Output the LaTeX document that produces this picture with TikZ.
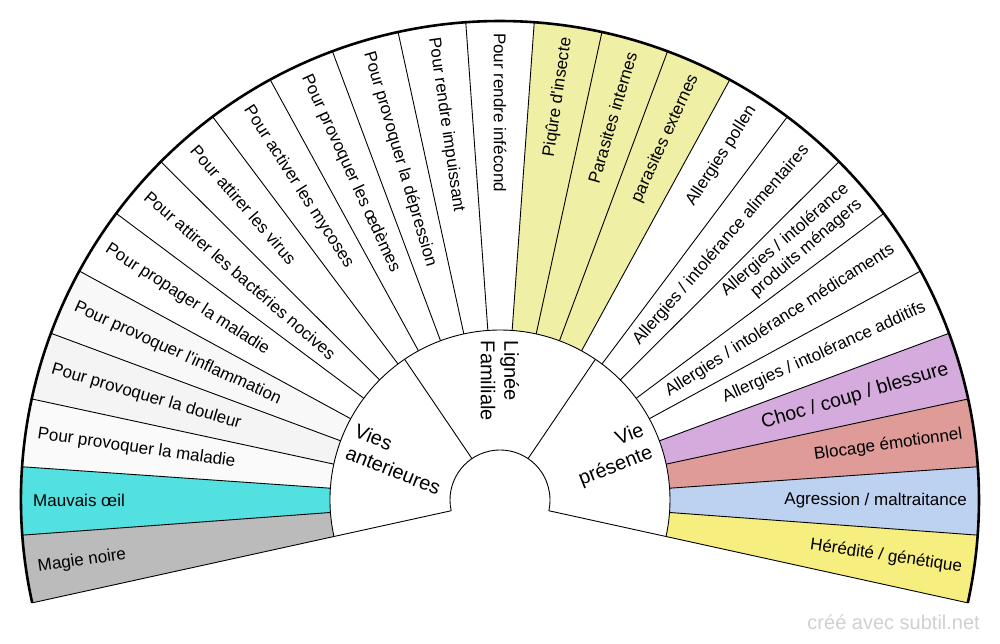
\documentclass[tikz,border=0pt]{standalone}
\usepackage{fontspec}
\setmainfont{Liberation Sans}[Ligatures=TeXOff]
\usepackage{xcolor}
\usepackage{tikz}

\definecolor{magie}{HTML}{BBBBBB}
\definecolor{oeil}{HTML}{52E0E0}
\definecolor{grisA}{HTML}{FAFAFA}
\definecolor{grisB}{HTML}{F4F4F4}
\definecolor{grisC}{HTML}{F8F8F8}
\definecolor{parasite}{HTML}{EFEFA6}
\definecolor{choc}{HTML}{D5AADD}
\definecolor{blocage}{HTML}{DE9B98}
\definecolor{agression}{HTML}{BDD1F1}
\definecolor{heredite}{HTML}{F7EE80}
\definecolor{signature}{HTML}{D0D0D0}

\tikzset{
  spoke/.style={draw=black, line width=0.9pt},
  rim/.style={draw=black, line width=2.6pt},
  lefttxt/.style={anchor=west, inner sep=0pt, font=\fontsize{17}{20}\selectfont},
  righttxt/.style={anchor=east, inner sep=0pt, align=right, font=\fontsize{17}{20}\selectfont},
  ringtxt/.style={inner sep=0pt, font=\fontsize{20}{23.5}\selectfont},
}

\begin{document}
\begin{tikzpicture}[x=1pt, y=1pt]
            \useasboundingbox (-500,-143) rectangle (500,500);

            % coloured sectors
            \fill[magie] (192.40:170) -- (192.40:479) arc[start angle=192.40, end angle=184.21, radius=479] -- (184.21:170) arc[start angle=184.21, end angle=192.40, radius=170] -- cycle; % Magie noire
            \fill[oeil] (184.21:170) -- (184.21:479) arc[start angle=184.21, end angle=176.02, radius=479] -- (176.02:170) arc[start angle=176.02, end angle=184.21, radius=170] -- cycle; % Mauvais oeil
            \fill[grisA] (176.02:170) -- (176.02:479) arc[start angle=176.02, end angle=167.82, radius=479] -- (167.82:170) arc[start angle=167.82, end angle=176.02, radius=170] -- cycle; % maladie
            \fill[grisB] (167.82:170) -- (167.82:479) arc[start angle=167.82, end angle=159.63, radius=479] -- (159.63:170) arc[start angle=159.63, end angle=167.82, radius=170] -- cycle; % douleur
            \fill[grisC] (159.63:170) -- (159.63:479) arc[start angle=159.63, end angle=151.44, radius=479] -- (151.44:170) arc[start angle=151.44, end angle=159.63, radius=170] -- cycle; % inflammation
            \fill[parasite] (85.90:170) -- (85.90:479) arc[start angle=85.90, end angle=61.33, radius=479] -- (61.33:170) arc[start angle=61.33, end angle=85.90, radius=170] -- cycle; % piqure + parasites
            \fill[choc] (20.37:170) -- (20.37:479) arc[start angle=20.37, end angle=12.18, radius=479] -- (12.18:170) arc[start angle=12.18, end angle=20.37, radius=170] -- cycle; % choc
            \fill[blocage] (12.18:170) -- (12.18:479) arc[start angle=12.18, end angle=3.98, radius=479] -- (3.98:170) arc[start angle=3.98, end angle=12.18, radius=170] -- cycle; % blocage
            \fill[agression] (3.98:170) -- (3.98:479) arc[start angle=3.98, end angle=-4.21, radius=479] -- (-4.21:170) arc[start angle=-4.21, end angle=3.98, radius=170] -- cycle; % agression
            \fill[heredite] (-4.21:170) -- (-4.21:479) arc[start angle=-4.21, end angle=-12.40, radius=479] -- (-12.40:170) arc[start angle=-12.40, end angle=-4.21, radius=170] -- cycle; % heredite

            % rays of the outer ring
            \draw[spoke] (192.40:50) -- (192.40:479);
            \draw[spoke] (184.21:170) -- (184.21:479);
            \draw[spoke] (176.02:170) -- (176.02:479);
            \draw[spoke] (167.82:170) -- (167.82:479);
            \draw[spoke] (159.63:170) -- (159.63:479);
            \draw[spoke] (151.44:170) -- (151.44:479);
            \draw[spoke] (143.25:170) -- (143.25:479);
            \draw[spoke] (135.06:170) -- (135.06:479);
            \draw[spoke] (126.86:170) -- (126.86:479);
            \draw[spoke] (118.67:170) -- (118.67:479);
            \draw[spoke] (110.48:170) -- (110.48:479);
            \draw[spoke] (102.29:170) -- (102.29:479);
            \draw[spoke] (94.10:170) -- (94.10:479);
            \draw[spoke] (85.90:170) -- (85.90:479);
            \draw[spoke] (77.71:170) -- (77.71:479);
            \draw[spoke] (69.52:170) -- (69.52:479);
            \draw[spoke] (61.33:170) -- (61.33:479);
            \draw[spoke] (53.14:170) -- (53.14:479);
            \draw[spoke] (44.94:170) -- (44.94:479);
            \draw[spoke] (36.75:170) -- (36.75:479);
            \draw[spoke] (28.56:170) -- (28.56:479);
            \draw[spoke] (20.37:170) -- (20.37:479);
            \draw[spoke] (12.18:170) -- (12.18:479);
            \draw[spoke] (3.98:170) -- (3.98:479);
            \draw[spoke] (-4.21:170) -- (-4.21:479);
            \draw[spoke] (-12.40:50) -- (-12.40:479);

            % inner ring
            \draw[spoke] (124.13:50) -- (124.13:170);
            \draw[spoke] (55.87:50) -- (55.87:170);
            \draw[spoke] (192.40:50) arc[start angle=192.40, end angle=-12.40, radius=50];
            \draw[spoke] (192.40:170) arc[start angle=192.40, end angle=-12.40, radius=170];
            \draw[rim] (192.40:479) arc[start angle=192.40, end angle=-12.40, radius=479];

            % labels, left half
            \node[lefttxt, rotate=8.30] (magie) at (188.30:467) {Magie noire};
            \node[lefttxt, rotate=0.11] (oeil) at (180.11:467) {Mauvais œil};
            \node[lefttxt, rotate=-8.08] (maladie) at (171.92:467) {Pour provoquer la maladie};
            \node[lefttxt, rotate=-16.27] (douleur) at (163.73:467) {Pour provoquer la douleur};
            \node[lefttxt, rotate=-24.46] (inflammation) at (155.54:467) {Pour provoquer l'inflammation};
            \node[lefttxt, rotate=-32.66] (propager) at (147.34:467) {Pour propager la maladie};
            \node[lefttxt, rotate=-40.85] (bacteries) at (139.15:467) {Pour attirer les bactéries nocives};
            \node[lefttxt, rotate=-49.04] (virus) at (130.96:467) {Pour attirer les virus};
            \node[lefttxt, rotate=-57.23] (mycoses) at (122.77:467) {Pour activer les mycoses};
            \node[lefttxt, rotate=-65.42] (oedemes) at (114.58:467) {Pour provoquer les œdèmes};
            \node[lefttxt, rotate=-73.62] (depression) at (106.38:467) {Pour provoquer la dépression};
            \node[lefttxt, rotate=-81.81] (impuissant) at (98.19:467) {Pour rendre impuissant};
            \node[lefttxt, rotate=-90.00] (infecond) at (90.00:467) {Pour rendre infécond};

            % labels, right half
            \node[righttxt, rotate=81.81] (piqure) at (81.81:467) {Piqûre d'insecte};
            \node[righttxt, rotate=73.62] (internes) at (73.62:467) {Parasites internes};
            \node[righttxt, rotate=65.42] (externes) at (65.42:467) {parasites externes};
            \node[righttxt, rotate=57.23] (pollen) at (57.23:467) {Allergies pollen};
            \node[righttxt, rotate=49.04] (alimentaires) at (49.04:467) {Allergies / intolérance alimentaires};
            \node[righttxt, rotate=40.85] (menagers) at (40.85:467) {Allergies / intolérance\\produits ménagers};
            \node[righttxt, rotate=32.66] (medicaments) at (32.66:467) {Allergies / intolérance médicaments};
            \node[righttxt, rotate=24.46] (additifs) at (24.46:467) {Allergies / intolérance additifs};
            \node[righttxt, rotate=16.27, font=\fontsize{19.5}{23}\selectfont] (choc) at (16.27:467) {Choc / coup / blessure};
            \node[righttxt, rotate=8.08] (blocage) at (8.08:467) {Blocage émotionnel};
            \node[righttxt, rotate=-0.11] (agression) at (-0.11:467) {Agression / maltraitance};
            \node[righttxt, rotate=-8.30] (heredite) at (-8.30:467) {Hérédité / génétique};

            % middle ring
            \node[ringtxt, align=left, rotate=-21.73] (anterieures) at (158.27:110) {Vies\\anterieures};
            \node[ringtxt, align=left, rotate=-90] (lignee) at (90:119) {Lignée\\Familiale};
            \node[ringtxt, align=right, rotate=21.73] (presente) at (21.73:120) {Vie\\présente};

            \node[text=signature, anchor=east, inner sep=0pt, font=\fontsize{20}{24}\selectfont] (credit) at (480,-122) {créé avec subtil.net};
        \end{tikzpicture}
\end{document}
